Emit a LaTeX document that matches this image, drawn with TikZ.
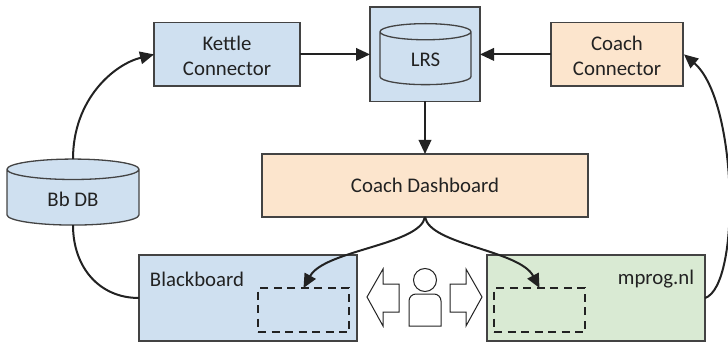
\documentclass[tikz,border=0pt]{standalone}
\usepackage{fontspec}
\setmainfont{Carlito}
\usetikzlibrary{arrows.meta,shapes.geometric}
\definecolor{bluefill}{HTML}{CFE0F0}
\definecolor{orangefill}{HTML}{FCE5CD}
\definecolor{greenfill}{HTML}{D9EAD3}
\definecolor{ink}{HTML}{222222}
\newcommand{\firstline}{\rule{0pt}{16.5pt}}
\tikzset{
  boxnode/.style={draw=ink!85,line width=1.3pt,rectangle,inner sep=0pt,outer sep=0pt,align=center,text=ink,font=\fontsize{20.8}{25}\selectfont},
  cyl/.style={boxnode,cylinder,shape border rotate=90,cylinder uses custom fill,cylinder body fill=#1,cylinder end fill=#1},
  lbl/.style={text=ink,inner sep=0pt,font=\fontsize{20.8}{25}\selectfont},
  conn/.style={line width=2pt,draw=ink},
  arr/.style={conn,-{Triangle[length=14pt,width=12.5pt]}},
  dashbox/.style={draw=ink,line width=2pt,dash pattern=on 8pt off 5.5pt,rectangle,inner sep=0pt,outer sep=0pt},
  thin/.style={draw=ink,line width=1pt,fill=white},
}
\begin{document}
\begin{tikzpicture}[x=1pt,y=-1pt]
\useasboundingbox (0,0) rectangle (728,342);
\node[boxnode,fill=bluefill,minimum width=146pt,minimum height=63.3pt] (kettle) at (227,54.4) {\firstline Kettle\\Connector};
\node[boxnode,fill=bluefill,minimum width=110pt,minimum height=94.5pt] (lrsbox) at (425,54.25) {};
\node[cyl=bluefill,minimum width=91pt,minimum height=61pt,aspect=0.55] (lrs) at (425.5,58.5) {\phantom{LRS}};
\node[lbl] (lrslabel) at (425.5,60) {LRS};
\node[boxnode,fill=orangefill,minimum width=132pt,minimum height=63.3pt] (coach) at (617,54.4) {\firstline Coach\\Connector};
\node[boxnode,fill=orangefill,minimum width=326pt,minimum height=63pt] (dash) at (425,185.5) {Coach Dashboard};
\node[cyl=bluefill,minimum width=132pt,minimum height=66pt,aspect=0.4] (bb) at (73,197.5) {\phantom{Bb DB}};
\node[lbl] (bblabel) at (73,199) {Bb DB};
\node[boxnode,fill=bluefill,minimum width=218pt,minimum height=86pt] (black) at (248,298) {};
\node[boxnode,fill=greenfill,minimum width=218pt,minimum height=86pt] (mprog) at (596,298) {};
\node[lbl] (blacklabel) at (197,279) {Blackboard};
\node[lbl] (mproglabel) at (656,279) {mprog.nl};
\node[dashbox,minimum width=91pt,minimum height=44pt] (dasha) at (303.5,310) {};
\node[dashbox,minimum width=91pt,minimum height=44pt] (dashb) at (539.5,310) {};
\draw[arr] (kettle.east) -- (kettle.east -| lrsbox.west);
\draw[arr] (coach.west) -- (coach.west -| lrsbox.east);
\draw[arr] (lrsbox.south) -- (dash.north);
\draw[conn] (bb.south) .. controls +(0,42) and +(-40,0) .. (black.west);
\draw[arr] (bb.north) .. controls +(0,-60) and +(-40,10) .. (kettle.west);
\draw[arr] (mprog.east) .. controls +(36,-12) and +(54,46) .. ([xshift=1pt]coach.east);
\draw[arr] (dash.south) .. controls +(-5,28) and +(21,-38) .. (dasha.north);
\draw[arr] (dash.south) .. controls +(5,28) and +(-20,-38) .. (dashb.north);
% user and the two hollow arrows
\draw[thin,line join=miter] (399,284) -- (383,284) -- (383,269) -- (367,297) -- (383,326) -- (383,312) -- (399,312) -- cycle;
\draw[thin,line join=miter] (450,284) -- (466,284) -- (466,269) -- (482,297) -- (466,326) -- (466,312) -- (450,312) -- cycle;
\draw[thin] (425,280) circle (11.5);
\draw[thin] (409,326) -- (409,301) arc[start angle=180,end angle=270,radius=7] -- (434,294) arc[start angle=-90,end angle=0,radius=7] -- (441,326) -- cycle;
\end{tikzpicture}
\end{document}
